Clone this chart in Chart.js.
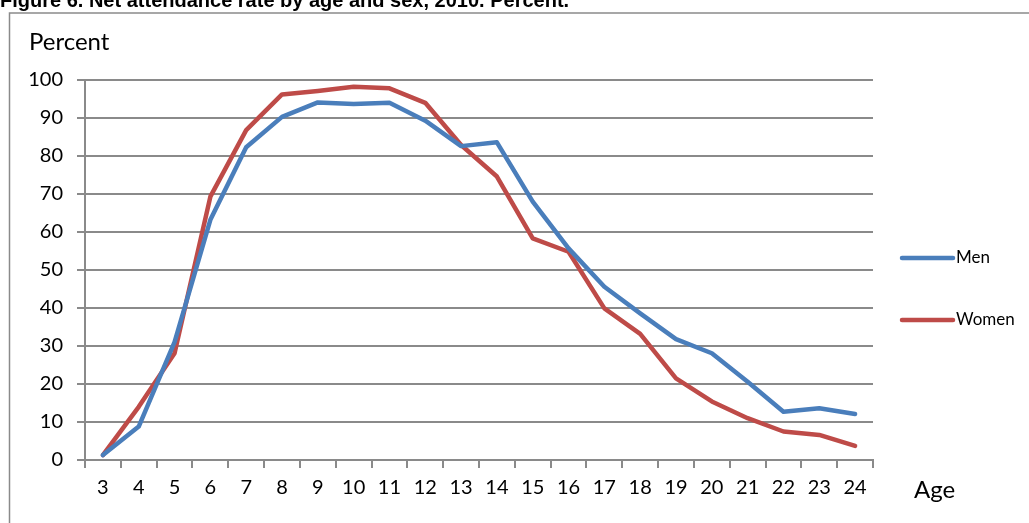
<!DOCTYPE html>
<html>
<head>
<meta charset="utf-8">
<script src="https://cdn.jsdelivr.net/npm/chart.js@4/dist/chart.umd.min.js"></script>
<style>
  html, body { margin: 0; padding: 0; background: #fff; }
  #wrap { position: relative; width: 1029px; height: 523px; overflow: hidden; }
</style>
</head>
<body>
<div id="wrap"><canvas id="chart" width="1029" height="523"></canvas></div>
<script>
const ages = ["3", "4", "5", "6", "7", "8", "9", "10", "11", "12", "13", "14", "15", "16", "17", "18", "19", "20", "21", "22", "23", "24"];
const men = [1.3, 8.8, 31, 63.2, 82.3, 90.3, 94.1, 93.7, 94.0, 89.3, 82.6, 83.6, 68.0, 55.7, 45.6, 38.6, 31.8, 28.1, 20.6, 12.7, 13.6, 12.1];
const women = [1.3, 14.0, 28.1, 69.3, 86.8, 96.2, 97.1, 98.2, 97.8, 94.0, 82.9, 74.6, 58.3, 54.8, 39.9, 33.2, 21.5, 15.4, 11.0, 7.5, 6.6, 3.7];
const yTicks = [0, 10, 20, 30, 40, 50, 60, 70, 80, 90, 100];

const titleText = "Figure 6. Net attendance rate by age and sex, 2010. Percent.";
const gridColor = "#8a8a8a";
const labelFont = { family: "Lato", size: 20 };

// frame, title, axis captions and legend
const decorations = {
  id: "decorations",
  beforeDraw(chart) {
    const ctx = chart.ctx;
    ctx.save();
    ctx.strokeStyle = "#8a8a8a";
    ctx.lineWidth = 1.5;
    ctx.beginPath();
    ctx.moveTo(9.5, 530);
    ctx.lineTo(9.5, 13);
    ctx.lineTo(1040, 13);
    ctx.stroke();
    ctx.restore();
  },
  afterDraw(chart) {
    const ctx = chart.ctx;
    ctx.save();
    ctx.fillStyle = "#000";
    ctx.font = "bold 20px 'Liberation Sans', Arial, sans-serif";
    ctx.textBaseline = "alphabetic";
    ctx.fillText(titleText, 0, 7);

    ctx.font = "24px Lato";
    ctx.textBaseline = "middle";
    ctx.fillText("Percent", 29, 42);
    ctx.fillText("Age", 914, 490);

    ctx.font = "17px Lato";
    chart.data.datasets.forEach((ds, i) => {
      const y = 258 + i * 62;
      ctx.strokeStyle = ds.borderColor;
      ctx.lineWidth = 4.5;
      ctx.lineCap = "round";
      ctx.beginPath();
      ctx.moveTo(902, y);
      ctx.lineTo(953, y);
      ctx.stroke();
      ctx.fillText(ds.label, 956, y);
    });
    ctx.restore();
  }
};

new Chart(document.getElementById("chart"), {
  type: "line",
  data: {
    labels: ages,
    datasets: [
      { label: "Men", data: men, borderColor: "#4a7ebb", backgroundColor: "#4a7ebb" },
      { label: "Women", data: women, borderColor: "#be4b48", backgroundColor: "#be4b48" }
    ]
  },
  options: {
    responsive: false,
    animation: false,
    layout: { padding: { left: 0, top: 80, right: 156, bottom: 0 } },
    elements: {
      line: { borderWidth: 4.5, tension: 0, borderCapStyle: "round", borderJoinStyle: "round" },
      point: { radius: 0, hoverRadius: 0 }
    },
    plugins: { legend: { display: false }, tooltip: { enabled: false } },
    scales: {
      x: {
        type: "category",
        offset: true,
        afterFit: (s) => { s.height = 63; },
        grid: {
          offset: true,
          drawOnChartArea: false,
          color: gridColor,
          lineWidth: 2,
          tickLength: 8
        },
        border: { color: gridColor, width: 2 },
        ticks: { color: "#000", font: labelFont, padding: 8, maxRotation: 0, autoSkip: false }
      },
      y: {
        min: 0,
        max: 100,
        afterFit: (s) => { s.width = 85; },
        afterBuildTicks: (s) => { s.ticks = yTicks.map((v) => ({ value: v })); },
        grid: { color: gridColor, lineWidth: 2, tickLength: 8 },
        border: { color: gridColor, width: 2 },
        ticks: { color: "#000", font: labelFont, padding: 14 }
      }
    }
  },
  plugins: [decorations]
});
</script>
</body>
</html>
